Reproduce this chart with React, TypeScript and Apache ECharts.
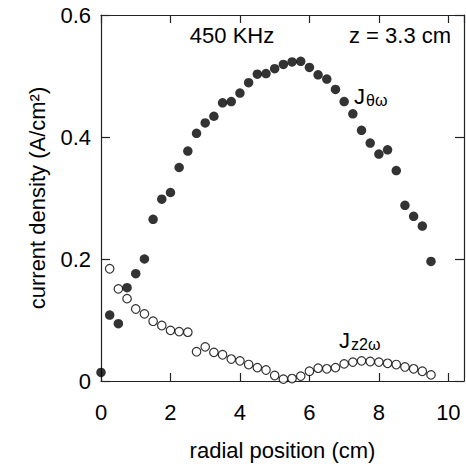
import React, { useEffect, useRef } from "react";
import * as echarts from "echarts";

// J_theta_omega (filled circles)
const thetaX = [0, 0.25, 0.5, 0.75, 1.0, 1.25, 1.5, 1.75, 2.0, 2.25, 2.5, 2.75, 3.0, 3.25, 3.5, 3.75, 4.0, 4.25, 4.5, 4.75, 5.0, 5.25, 5.5, 5.75, 6.0, 6.25, 6.5, 6.75, 7.0, 7.25, 7.5, 7.75, 8.0, 8.25, 8.5, 8.75, 9.0, 9.25, 9.5];
const thetaY = [0.014, 0.108, 0.094, 0.153, 0.176, 0.2, 0.265, 0.298, 0.309, 0.35, 0.377, 0.406, 0.423, 0.434, 0.456, 0.458, 0.472, 0.489, 0.503, 0.504, 0.512, 0.519, 0.523, 0.524, 0.514, 0.502, 0.495, 0.478, 0.458, 0.438, 0.411, 0.39, 0.372, 0.379, 0.345, 0.288, 0.27, 0.254, 0.196];

// J_z_2omega (open circles)
const zX = [0.25, 0.5, 0.75, 1.0, 1.25, 1.5, 1.75, 2.0, 2.25, 2.5, 2.75, 3.0, 3.25, 3.5, 3.75, 4.0, 4.25, 4.5, 4.75, 5.0, 5.25, 5.5, 5.75, 6.0, 6.25, 6.5, 6.75, 7.0, 7.25, 7.5, 7.75, 8.0, 8.25, 8.5, 8.75, 9.0, 9.25, 9.5];
const zY = [0.184, 0.151, 0.135, 0.118, 0.11, 0.098, 0.091, 0.083, 0.081, 0.08, 0.048, 0.056, 0.047, 0.043, 0.036, 0.033, 0.027, 0.022, 0.018, 0.009, 0.003, 0.004, 0.008, 0.016, 0.021, 0.02, 0.022, 0.028, 0.031, 0.033, 0.032, 0.031, 0.029, 0.027, 0.023, 0.02, 0.016, 0.01];

const xTicks = [0, 2, 4, 6, 8, 10];
const yTicks = [0, 0.2, 0.4, 0.6];

const FONT = "'Liberation Sans', Arial, sans-serif";
const AXIS = "#222";

export default function App() {
  const ref = useRef<HTMLDivElement>(null);
  useEffect(() => {
    if (!ref.current) return;
    const chart = echarts.init(ref.current, undefined, { renderer: "svg" });
    const lineStyle = { color: AXIS, width: 1.2 };
    const baseX = {
      type: "value" as const,
      min: xTicks[0],
      max: 10.45,
      interval: 2,
      splitLine: { show: false },
      axisLine: { show: true, onZero: false, lineStyle },
      axisTick: { show: true, inside: true, length: 8, lineStyle },
    };
    const baseY = {
      type: "value" as const,
      min: yTicks[0],
      max: yTicks[yTicks.length - 1],
      interval: 0.2,
      splitLine: { show: false },
      axisLine: { show: true, onZero: false, lineStyle },
      axisTick: { show: true, inside: true, length: 9, lineStyle },
    };
    chart.setOption({
      animation: false,
      backgroundColor: "#fff",
      grid: { left: 101, top: 15, right: 2, bottom: 85, containLabel: false },
      xAxis: [
        {
          ...baseX,
          position: "bottom",
          name: "radial position (cm)",
          nameLocation: "middle",
          nameGap: 58,
          nameTextStyle: { fontFamily: FONT, fontSize: 22, color: "#000" },
          axisLabel: {
            fontFamily: FONT,
            fontSize: 22,
            color: "#000",
            margin: 20,
            showMaxLabel: false,
            formatter: (v: number) => (xTicks.includes(v) ? String(v) : ""),
          },
        },
        {
          ...baseX,
          position: "top",
          axisLabel: { show: false },
        },
      ],
      yAxis: [
        {
          ...baseY,
          position: "left",
          name: "current density (A/cm²)",
          nameLocation: "middle",
          nameGap: 53,
          nameTextStyle: { fontFamily: FONT, fontSize: 22, color: "#000" },
          axisLabel: {
            fontFamily: FONT,
            fontSize: 22,
            color: "#000",
            margin: 10,
            formatter: (v: number) => (v === 0 ? "0" : v.toFixed(1)),
          },
        },
        {
          ...baseY,
          position: "right",
          axisLabel: { show: false },
        },
      ],
      graphic: [
        {
          type: "text",
          x: 232,
          y: 35,
          style: { text: "450 KHz", font: `22px ${FONT}`, fill: "#000", textAlign: "center", textVerticalAlign: "middle", align: "center", verticalAlign: "middle" },
        },
        {
          type: "text",
          x: 349,
          y: 35,
          style: { text: "z = 3.3 cm", font: `22px ${FONT}`, fill: "#000", textAlign: "left", textVerticalAlign: "middle", align: "left", verticalAlign: "middle" },
        },
        {
          type: "text",
          x: 354,
          y: 96,
          style: { text: "J", font: `22px ${FONT}`, fill: "#000", textAlign: "left", textVerticalAlign: "middle", align: "left", verticalAlign: "middle" },
        },
        {
          type: "text",
          x: 366,
          y: 100,
          style: { text: "θω", font: `16px ${FONT}`, fill: "#000", textAlign: "left", textVerticalAlign: "middle", align: "left", verticalAlign: "middle" },
        },
        {
          type: "text",
          x: 339,
          y: 340,
          style: { text: "J", font: `22px ${FONT}`, fill: "#000", textAlign: "left", textVerticalAlign: "middle", align: "left", verticalAlign: "middle" },
        },
        {
          type: "text",
          x: 351,
          y: 344,
          style: { text: "z2ω", font: `16px ${FONT}`, fill: "#000", textAlign: "left", textVerticalAlign: "middle", align: "left", verticalAlign: "middle" },
        },
      ],
      series: [
        {
          type: "scatter",
          name: "Jz2w",
          data: zX.map((x, i) => [x, zY[i]]),
          symbol: "circle",
          symbolSize: 8.5,
          itemStyle: { color: "#fff", borderColor: "#000", borderWidth: 1.2 },
          z: 2,
        },
        {
          type: "scatter",
          name: "Jthetaw",
          data: thetaX.map((x, i) => [x, thetaY[i]]),
          symbol: "circle",
          symbolSize: 9.5,
          itemStyle: { color: "#000" },
          z: 3,
        },
      ],
    });
    return () => chart.dispose();
  }, []);
  return (
    <div
      ref={ref}
      style={{ position: "fixed", left: 0, top: 0, width: 466, height: 466, background: "#fff" }}
    />
  );
}
